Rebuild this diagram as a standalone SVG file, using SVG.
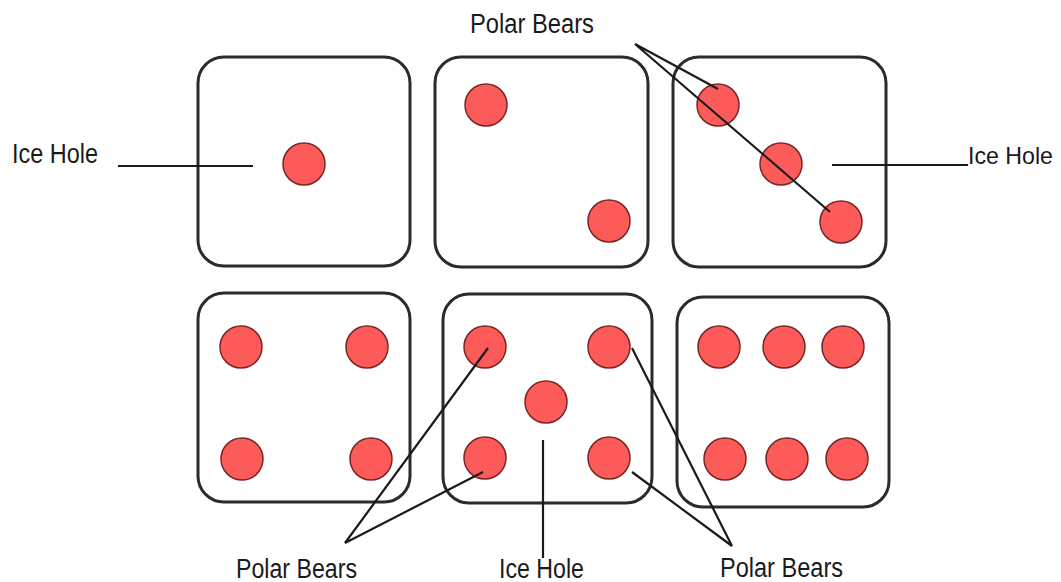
<svg xmlns="http://www.w3.org/2000/svg" width="1061" height="582" viewBox="0 0 1061 582">
<style>
.die{fill:#fff;stroke:#2b2b2b;stroke-width:3}
.dot{fill:#fd5a5a;stroke:#7a2626;stroke-width:1.5}
.lead{stroke:#1a1a1a;stroke-width:2.2;fill:none}
.lbl{font-family:"Liberation Sans",Arial,sans-serif;font-size:27px;fill:#1a1a1a}
</style>
<rect width="1061" height="582" fill="#fff"/>
<g id="die1"><rect class="die" x="198" y="57" width="212" height="209" rx="26"/><circle class="dot" cx="304" cy="164" r="21"/></g>
<g id="die2"><rect class="die" x="435" y="57" width="213" height="210" rx="26"/><circle class="dot" cx="486" cy="105" r="21"/><circle class="dot" cx="609" cy="221" r="21"/></g>
<g id="die3"><rect class="die" x="673" y="57" width="213" height="210" rx="26"/><circle class="dot" cx="718" cy="105" r="21"/><circle class="dot" cx="781" cy="164" r="21"/><circle class="dot" cx="841" cy="222" r="21"/></g>
<g id="die4"><rect class="die" x="198" y="293" width="212" height="209" rx="26"/><circle class="dot" cx="241" cy="347" r="21"/><circle class="dot" cx="367" cy="347" r="21"/><circle class="dot" cx="242" cy="459" r="21"/><circle class="dot" cx="371" cy="459" r="21"/></g>
<g id="die5"><rect class="die" x="443" y="294" width="209" height="209" rx="26"/><circle class="dot" cx="485" cy="347" r="21"/><circle class="dot" cx="609" cy="347" r="21"/><circle class="dot" cx="546" cy="402" r="21"/><circle class="dot" cx="485" cy="458" r="21"/><circle class="dot" cx="609" cy="458" r="21"/></g>
<g id="die6"><rect class="die" x="677" y="297" width="212" height="210" rx="26"/><circle class="dot" cx="719" cy="347" r="21"/><circle class="dot" cx="784" cy="347" r="21"/><circle class="dot" cx="843" cy="347" r="21"/><circle class="dot" cx="725" cy="459" r="21"/><circle class="dot" cx="787" cy="459" r="21"/><circle class="dot" cx="847" cy="459" r="21"/></g>
<g id="connectors">
<line class="lead" x1="118" y1="166" x2="253" y2="166"/>
<line class="lead" x1="832" y1="165" x2="968" y2="165"/>
<polyline class="lead" points="718,89 635,44 830,212"/>
<polyline class="lead" points="488,348 345,543 483,472"/>
<polyline class="lead" points="632,348 732,546 632,472"/>
<line class="lead" x1="543" y1="440" x2="543" y2="558"/>
</g>
<g id="labels">
<text class="lbl" x="12" y="163" textLength="86" lengthAdjust="spacingAndGlyphs">Ice Hole</text>
<text class="lbl" x="470" y="33" textLength="124" lengthAdjust="spacingAndGlyphs">Polar Bears</text>
<text class="lbl" x="968" y="164" style="font-size:24px" textLength="85" lengthAdjust="spacingAndGlyphs">Ice Hole</text>
<text class="lbl" x="236" y="578" textLength="121" lengthAdjust="spacingAndGlyphs">Polar Bears</text>
<text class="lbl" x="499" y="578" textLength="85" lengthAdjust="spacingAndGlyphs">Ice Hole</text>
<text class="lbl" x="720" y="577" textLength="123" lengthAdjust="spacingAndGlyphs">Polar Bears</text>
</g>
</svg>
